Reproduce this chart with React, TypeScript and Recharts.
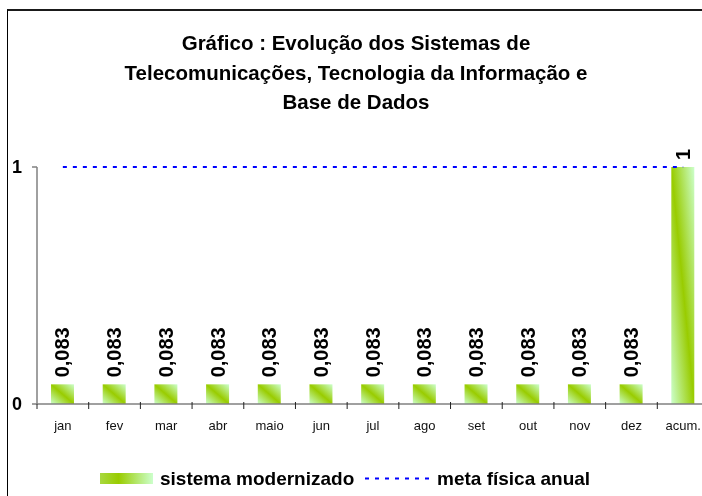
import React from 'react';
import { ComposedChart, Bar, Line, XAxis, YAxis, LabelList, Legend } from 'recharts';

const categories = ['jan', 'fev', 'mar', 'abr', 'maio', 'jun', 'jul', 'ago', 'set', 'out', 'nov', 'dez', 'acum.'];
const sistemaModernizado = [0.083, 0.083, 0.083, 0.083, 0.083, 0.083, 0.083, 0.083, 0.083, 0.083, 0.083, 0.083, 1];
const metaFisicaAnual = [1, 1, 1, 1, 1, 1, 1, 1, 1, 1, 1, 1, 1];
const yTicks = [0, 1];
const titleLines = [
  'Gráfico : Evolução dos Sistemas de',
  'Telecomunicações, Tecnologia da Informação e',
  'Base de Dados',
];
const seriesNames = ['sistema modernizado', 'meta física anual'];

const data = categories.map((c, i) => ({
  name: c,
  sistema: sistemaModernizado[i],
  meta: metaFisicaAnual[i],
}));

const FONT = '"Liberation Sans", Arial, Helvetica, sans-serif';
const CHART_W = 720;
const CHART_H = 496;
const MARGIN = { top: 167, right: 11, left: 0, bottom: 0 };
const Y_W = 37;
const PLOT_W = CHART_W - MARGIN.left - MARGIN.right - Y_W;
const BAND = PLOT_W / categories.length;

const fmt = (v: number) => String(v).replace('.', ',');

const XTick = (props: any) => {
  const { x, y, payload, index } = props;
  return (
    <g>
      {index === 0 && (
        <line x1={x - BAND / 2} x2={x - BAND / 2} y1={y} y2={y + 5} stroke="#222" strokeWidth={1} />
      )}
      <line x1={x + BAND / 2} x2={x + BAND / 2} y1={y - 2} y2={y + 5} stroke="#222" strokeWidth={1} />
      <text x={x} y={y + 26} textAnchor="middle" fontSize={13} fontFamily={FONT} fill="#111">
        {payload.value}
      </text>
    </g>
  );
};

const BarLabel = (props: any) => {
  const { x, y, width, value } = props;
  const cx = x + width / 2;
  const y0 = y - 7;
  return (
    <text
      x={cx}
      y={y0}
      transform={`rotate(-90, ${cx}, ${y0})`}
      textAnchor="start"
      dominantBaseline="central"
      fontSize={20}
      fontWeight="bold"
      fontFamily={FONT}
      fill="#000"
    >
      {fmt(value)}
    </text>
  );
};

const LegendContent = () => (
  <svg width={702} height={34} style={{ display: 'block' }}>
    <rect x={100} y={11} width={53} height={11} fill="url(#legendGrad)" />
    <text x={160} y={23} fontSize={19} fontWeight="bold" fontFamily={FONT} fill="#000">
      {seriesNames[0]}
    </text>
    <line x1={365} x2={430} y1={16.5} y2={16.5} stroke="#0000ff" strokeWidth={2} strokeDasharray="4 6" />
    <text x={437} y={23} fontSize={19} fontWeight="bold" fontFamily={FONT} fill="#000">
      {seriesNames[1]}
    </text>
  </svg>
);

export default function App() {
  return (
    <>
      <svg width={0} height={0} style={{ position: 'absolute' }}>
        <defs>
          <linearGradient id="barGrad" x1="0" y1="1" x2="1" y2="0">
            <stop offset="0%" stopColor="#ccffcc" />
            <stop offset="50%" stopColor="#99cc00" />
            <stop offset="100%" stopColor="#ccffcc" />
          </linearGradient>
          <linearGradient id="legendGrad" x1="0" y1="0" x2="1" y2="0">
            <stop offset="0%" stopColor="#a8d840" />
            <stop offset="35%" stopColor="#99cc00" />
            <stop offset="100%" stopColor="#ccffcc" />
          </linearGradient>
        </defs>
      </svg>
      <div
        style={{
          position: 'fixed',
          left: 7,
          top: 9,
          width: 800,
          height: 600,
          borderTop: '2px solid #1a1a1a',
          borderLeft: '1px solid #000',
          background: '#fff',
        }}
      />
      <div
        style={{
          position: 'fixed',
          left: 0,
          top: 28,
          width: 712,
          textAlign: 'center',
          fontFamily: FONT,
          fontWeight: 'bold',
          fontSize: 20.5,
          lineHeight: '29.5px',
          color: '#000',
        }}
      >
        {titleLines.map((l) => (
          <div key={l}>{l}</div>
        ))}
      </div>
      <div style={{ position: 'fixed', left: 0, top: 0 }}>
        <ComposedChart width={CHART_W} height={CHART_H} data={data} margin={MARGIN}>
          <XAxis
            dataKey="name"
            interval={0}
            height={92}
            tickLine={false}
            tickSize={0}
            tickMargin={0}
            tick={<XTick />}
            axisLine={{ stroke: '#808080', strokeWidth: 1.5 }}
          />
          <YAxis
            width={Y_W}
            domain={[0, 1]}
            ticks={yTicks}
            tickSize={5}
            tickMargin={10}
            axisLine={{ stroke: '#808080', strokeWidth: 1.5 }}
            tickLine={{ stroke: '#808080', strokeWidth: 1.5 }}
            tick={{ fontSize: 18, fontWeight: 'bold', fill: '#000', fontFamily: FONT }}
            tickFormatter={fmt}
          />
          <Line
            dataKey="meta"
            stroke="#0000ff"
            strokeWidth={2}
            strokeDasharray="4 6"
            dot={false}
            activeDot={false}
            isAnimationActive={false}
            legendType="none"
          />
          <Bar dataKey="sistema" barSize={23} fill="url(#barGrad)" isAnimationActive={false}>
            <LabelList dataKey="sistema" content={<BarLabel />} />
          </Bar>
          <Legend
            layout="horizontal"
            verticalAlign="middle"
            align="center"
            content={<LegendContent />}
            wrapperStyle={{ top: 462, left: 0, width: 702, height: 34 }}
          />
        </ComposedChart>
      </div>
    </>
  );
}
